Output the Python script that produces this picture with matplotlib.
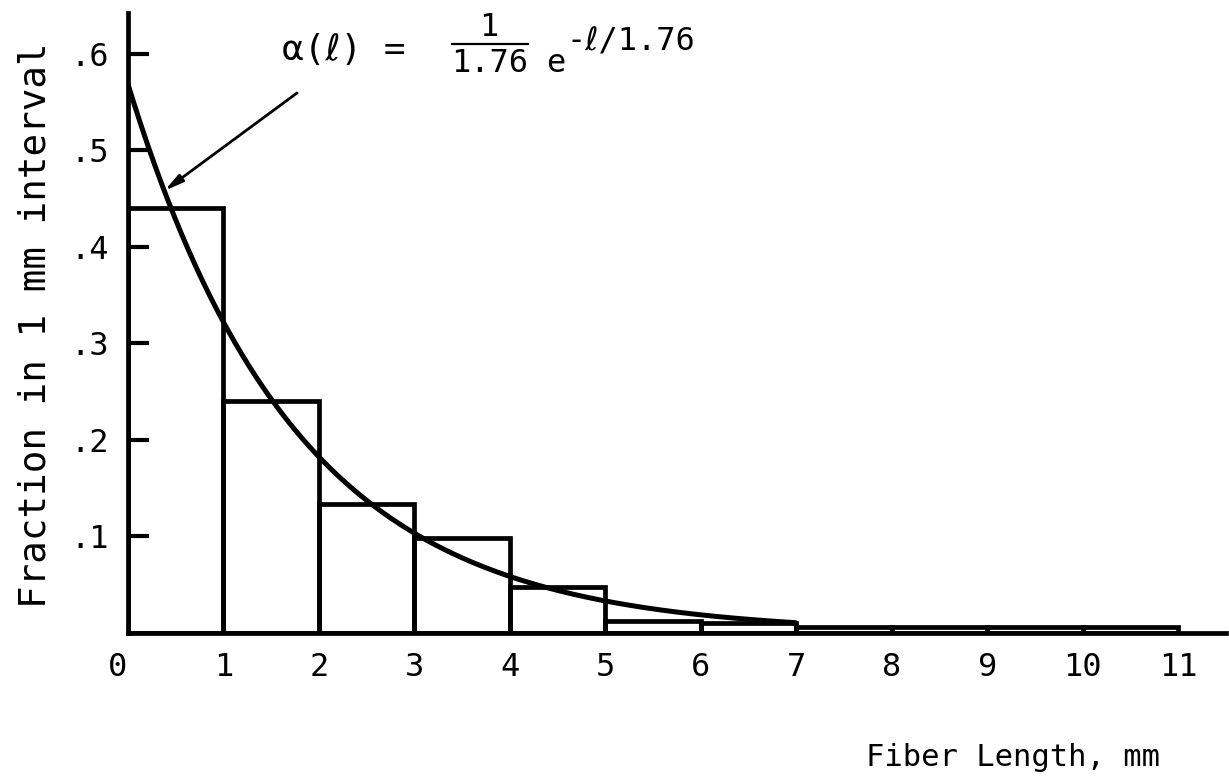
import numpy as np
import matplotlib
matplotlib.use("Agg")
import matplotlib.pyplot as plt
from matplotlib.transforms import ScaledTranslation

# ---- data ----
bin_left = [0, 1, 2, 3, 4, 5, 6, 7, 8, 9, 10]
fractions = [0.44, 0.24, 0.134, 0.098, 0.048, 0.012, 0.010, 0.006, 0.006, 0.006, 0.006]
mean_length = 1.76          # parameter of the fitted curve shown on the chart
curve_range = (0.0, 7.0)
x_ticks = [0, 1, 2, 3, 4, 5, 6, 7, 8, 9, 10, 11]
x_tick_labels = ["0", "1", "2", "3", "4", "5", "6", "7", "8", "9", "10", "11"]
y_ticks = [0.1, 0.2, 0.3, 0.4, 0.5, 0.6]
y_tick_labels = [".1", ".2", ".3", ".4", ".5", ".6"]

FONT = ["DejaVu Sans Mono", "DejaVu Sans"]
plt.rcParams["font.family"] = FONT

W, H = 1229, 783
fig = plt.figure(figsize=(W / 100, H / 100), dpi=100)
ax = fig.add_axes([128 / W, 150 / H, 1098 / W, 620 / H])

# histogram bars
ax.bar(bin_left, fractions, width=1.0, align="edge", fill=False,
       edgecolor="black", linewidth=3.4, zorder=2)

# fitted exponential curve
xc = np.linspace(curve_range[0], curve_range[1], 400)
yc = (1.0 / mean_length) * np.exp(-xc / mean_length)
ax.plot(xc, yc, color="black", linewidth=3.6, zorder=3, solid_capstyle="butt")

ax.set_xlim(0, 11.5)
ax.set_ylim(0, 0.642)

for s in ["top", "right"]:
    ax.spines[s].set_visible(False)
for s in ["left", "bottom"]:
    ax.spines[s].set_linewidth(3.4)

ax.set_xticks(x_ticks)
ax.set_xticklabels(x_tick_labels, fontsize=23)
ax.tick_params(axis="x", length=0, pad=14)
ax.set_yticks(y_ticks)
ax.set_yticklabels(y_tick_labels, fontsize=23)
ax.tick_params(axis="y", direction="in", length=15, width=3.0, pad=14)

# nudge the "0" label slightly left, as in the original
zero_lab = ax.xaxis.get_major_ticks()[0].label1
zero_lab.set_transform(zero_lab.get_transform() +
                       ScaledTranslation(-10 / 100, 0, fig.dpi_scale_trans))

# arrow pointing to the curve
xa = 0.38
ya = (1.0 / mean_length) * np.exp(-xa / mean_length)
ax.annotate("", xy=(xa, ya), xycoords="data",
            xytext=(297 / W, 1 - 93 / H), textcoords="figure fraction",
            arrowprops=dict(arrowstyle="-|>,head_length=1.1,head_width=0.25",
                            color="black", lw=2.0, shrinkA=0, shrinkB=0))

# equation
def ft(xp, yp, s, **kw):
    fig.text(xp / W, 1 - yp / H, s, **kw)

ft(344, 50, "\u03b1(\u2113) =", fontsize=26, ha="center", va="center")
ft(489, 27, "1", fontsize=23, ha="center", va="center")
fig.add_artist(plt.Line2D([452 / W, 528 / W], [1 - 44 / H, 1 - 44 / H],
                          color="black", lw=1.6))
ft(490, 64, "1.76", fontsize=23, ha="center", va="center")
ft(556, 64, "e", fontsize=23, ha="center", va="center")
ft(566, 42, "-\u2113/1.76", fontsize=23, ha="left", va="center")

# axis labels
ft(1013, 757, "Fiber Length, mm", fontsize=22, ha="center", va="center")
ft(36, 325, "Fraction in 1 mm interval", fontsize=27, ha="center",
   va="center", rotation=90)

fig.savefig("out.png", dpi=100)
